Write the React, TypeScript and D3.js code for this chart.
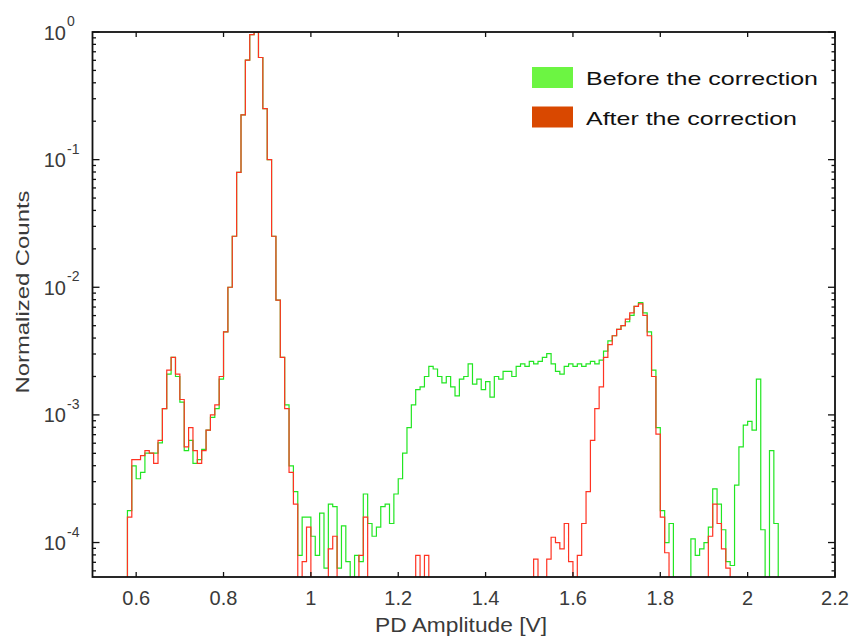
import React, { useEffect, useRef } from 'react';
import * as d3 from 'd3';

// histogram bins: 0.01 V wide, first bin starts at 0.57 V
const BIN_START = 0.57;
const BIN_WIDTH = 0.01;

// normalized counts per bin (0 = empty bin, falls below the axis)
const beforeCounts = [
  0, 1.78e-4, 3.98e-4, 3.16e-4, 3.55e-4, 5.01e-4, 5.01e-4, 5.01e-4, 6.03e-4, 1.12e-3,
  2.09e-3, 2.82e-3, 2.0e-3, 1.26e-3, 5.25e-4, 6.31e-4, 4.17e-4, 4.47e-4, 5.37e-4, 7.59e-4,
  9.55e-4, 1.12e-3, 1.91e-3, 4.47e-3, 1.0e-2, 2.51e-2, 7.94e-2, 0.224, 0.603, 0.955,
  1.0, 0.631, 0.251, 0.1, 2.51e-2, 7.94e-3, 2.82e-3, 1.2e-3, 3.98e-4, 2.51e-4,
  7.94e-5, 1.58e-4, 1.58e-4, 1.12e-4, 7.94e-5, 1.7e-4, 6.31e-5, 2.0e-4, 1.91e-4, 6.31e-5,
  1.35e-4, 7.08e-5, 0, 7.94e-5, 7.08e-5, 2.4e-4, 1.41e-4, 1.12e-4, 1.32e-4, 1.91e-4,
  2.0e-4, 1.41e-4, 2.4e-4, 3.16e-4, 5.01e-4, 7.94e-4, 1.2e-3, 1.58e-3, 1.66e-3, 2.0e-3,
  2.4e-3, 2.29e-3, 2.0e-3, 1.78e-3, 2.0e-3, 1.66e-3, 1.41e-3, 1.91e-3, 2.0e-3, 2.51e-3,
  1.74e-3, 1.91e-3, 1.58e-3, 1.82e-3, 1.38e-3, 2.0e-3, 1.91e-3, 2.19e-3, 2.19e-3, 2.0e-3,
  2.4e-3, 2.51e-3, 2.4e-3, 2.63e-3, 2.51e-3, 2.63e-3, 2.82e-3, 3.02e-3, 2.51e-3, 2.19e-3,
  2.09e-3, 2.4e-3, 2.51e-3, 2.4e-3, 2.51e-3, 2.4e-3, 2.51e-3, 2.63e-3, 2.51e-3, 2.69e-3,
  3.16e-3, 3.8e-3, 4.17e-3, 4.68e-3, 5.01e-3, 5.37e-3, 6.03e-3, 7.08e-3, 7.59e-3, 6.31e-3,
  4.47e-3, 2.24e-3, 7.94e-4, 1.78e-4, 1.0e-4, 1.41e-4, 0, 0, 0, 0,
  1.07e-4, 7.94e-5, 8.91e-5, 1.0e-4, 1.32e-4, 2.63e-4, 2.0e-4, 1.26e-4, 7.08e-5, 6.61e-5,
  2.82e-4, 5.62e-4, 8.32e-4, 8.91e-4, 7.59e-4, 1.91e-3, 1.26e-4, 0, 5.25e-4, 1.41e-4,
  0,
];

const afterCounts = [
  0, 1.58e-4, 4.47e-4, 4.47e-4, 4.79e-4, 5.25e-4, 5.01e-4, 4.17e-4, 6.31e-4, 1.12e-3,
  2.24e-3, 2.82e-3, 2.09e-3, 1.32e-3, 5.62e-4, 7.94e-4, 5.25e-4, 4.17e-4, 5.25e-4, 7.59e-4,
  1.0e-3, 1.2e-3, 2.0e-3, 4.47e-3, 1.0e-2, 2.51e-2, 7.94e-2, 0.224, 0.603, 0.955,
  1.0, 0.631, 0.251, 0.1, 2.51e-2, 7.94e-3, 2.82e-3, 1.12e-3, 3.55e-4, 2.0e-4,
  0, 7.08e-5, 1.32e-4, 0, 0, 0, 0, 8.91e-5, 1.12e-4, 0,
  0, 0, 0, 0, 7.94e-5, 1.58e-4, 0, 0, 0, 0,
  0, 0, 0, 0, 0, 0, 0, 7.94e-5, 0, 7.94e-5,
  0, 0, 0, 0, 0, 0, 0, 0, 0, 0,
  0, 0, 0, 0, 0, 0, 0, 0, 0, 0,
  0, 0, 0, 0, 7.41e-5, 0, 0, 7.41e-5, 1.1e-4, 1.0e-4,
  8.91e-5, 1.41e-4, 7.08e-5, 0, 7.94e-5, 1.41e-4, 2.51e-4, 6.31e-4, 1.12e-3, 1.66e-3,
  2.82e-3, 3.55e-3, 4.17e-3, 4.68e-3, 5.01e-3, 5.62e-3, 6.31e-3, 7.08e-3, 7.41e-3, 6.03e-3,
  4.17e-3, 2.0e-3, 7.08e-4, 1.58e-4, 8.32e-5, 0, 0, 0, 0, 0,
  0, 0, 0, 0, 1.12e-4, 2.0e-4, 1.41e-4, 8.91e-5, 6.31e-5, 0,
  0, 0, 0, 0, 0, 0, 0, 0, 0, 0,
  0,
];

const xTicks = [0.6, 0.8, 1, 1.2, 1.4, 1.6, 1.8, 2, 2.2];
const yExponents = [0, -1, -2, -3, -4];

const series = [
  { label: 'Before the correction', counts: beforeCounts, line: '#22e622', swatch: '#6cf542', textLen: 232 },
  { label: 'After the correction', counts: afterCounts, line: '#ff3322', swatch: '#d94800', textLen: 211 },
];

const W = 849;
const H = 636;
const FONT = 'Liberation Sans, Arial, sans-serif';

export default function App() {
  const svgRef = useRef<SVGSVGElement>(null);

  useEffect(() => {
    if (!svgRef.current) return;
    const svg = d3.select(svgRef.current);
    svg.selectAll('*').remove();

    const left = 92.5, right = 835, top = 32, bottom = 577;
    const x = d3.scaleLinear().domain([0.5, 2.2]).range([left, right]);
    const y = d3.scaleLog().domain([Math.pow(10, -4.27), 1]).range([bottom, top]);

    svg.append('rect').attr('width', W).attr('height', H).attr('fill', '#fff');

    svg.append('clipPath').attr('id', 'plot-clip')
      .append('rect').attr('x', left).attr('y', top).attr('width', right - left).attr('height', bottom - top);

    // histogram step lines, green first, red drawn over it
    const g = svg.append('g').attr('clip-path', 'url(#plot-clip)');
    series.forEach(s => {
      const pts: [number, number][] = s.counts.map((c, i) => [BIN_START + i * BIN_WIDTH, c]);
      pts.push([BIN_START + s.counts.length * BIN_WIDTH, s.counts[s.counts.length - 1]]);
      const line = d3.line<[number, number]>()
        .x(d => x(d[0]))
        .y(d => (d[1] > 0 ? y(d[1]) : bottom + 20))
        .curve(d3.curveStepAfter);
      g.append('path')
        .datum(pts)
        .attr('fill', 'none')
        .attr('stroke', s.line)
        .attr('stroke-width', 1.2)
        .attr('d', line);
    });

    // frame
    svg.append('rect')
      .attr('x', left).attr('y', top).attr('width', right - left).attr('height', bottom - top)
      .attr('fill', 'none').attr('stroke', '#111').attr('stroke-width', 1.8);

    const ticks = svg.append('g').attr('stroke', '#111').attr('stroke-width', 1.3);

    // x ticks, bottom and top, pointing inward
    xTicks.forEach(t => {
      ticks.append('line').attr('x1', x(t)).attr('x2', x(t)).attr('y1', bottom).attr('y2', bottom - 5);
      ticks.append('line').attr('x1', x(t)).attr('x2', x(t)).attr('y1', top).attr('y2', top + 5);
    });

    // y ticks: decades and minor ticks, left and right
    yExponents.forEach(e => {
      const py = y(Math.pow(10, e));
      ticks.append('line').attr('x1', left).attr('x2', left + 7).attr('y1', py).attr('y2', py);
      ticks.append('line').attr('x1', right).attr('x2', right - 7).attr('y1', py).attr('y2', py);
    });
    [-5, -4, -3, -2, -1].forEach(e => {
      d3.range(2, 10).forEach(m => {
        const v = m * Math.pow(10, e);
        const [lo, hi] = y.domain();
        if (v < lo || v > hi) return;
        const py = y(v);
        ticks.append('line').attr('x1', left).attr('x2', left + 3.5).attr('y1', py).attr('y2', py);
        ticks.append('line').attr('x1', right).attr('x2', right - 3.5).attr('y1', py).attr('y2', py);
      });
    });

    // tick labels
    const labels = svg.append('g').attr('font-family', FONT).attr('fill', '#3a3a3a');
    xTicks.forEach(t => {
      labels.append('text')
        .attr('x', x(t)).attr('y', 605)
        .attr('text-anchor', 'middle').attr('font-size', 20)
        .text(String(t));
    });
    yExponents.forEach(e => {
      const py = y(Math.pow(10, e));
      labels.append('text')
        .attr('x', 66).attr('y', py + 7.5)
        .attr('text-anchor', 'end').attr('font-size', 20)
        .text('10');
      labels.append('text')
        .attr('x', 67).attr('y', py - 6)
        .attr('font-size', 14)
        .text(String(e));
    });

    // axis titles
    labels.append('text')
      .attr('x', 461).attr('y', 632)
      .attr('text-anchor', 'middle').attr('font-size', 21)
      .attr('textLength', 172).attr('lengthAdjust', 'spacingAndGlyphs')
      .text('PD Amplitude [V]');
    labels.append('text')
      .attr('transform', 'translate(29,292) rotate(-90)')
      .attr('text-anchor', 'middle').attr('font-size', 19)
      .attr('textLength', 203).attr('lengthAdjust', 'spacingAndGlyphs')
      .text('Normalized Counts');

    // legend
    const legend = svg.append('g').attr('font-family', FONT);
    series.forEach((s, i) => {
      const ly = 67 + i * 39.5;
      legend.append('rect')
        .attr('x', 532).attr('y', ly).attr('width', 41).attr('height', 21)
        .attr('fill', s.swatch);
      legend.append('text')
        .attr('x', 586).attr('y', ly + 18)
        .attr('font-size', 19).attr('fill', '#111')
        .attr('textLength', s.textLen).attr('lengthAdjust', 'spacingAndGlyphs')
        .text(s.label);
    });
  }, []);

  return (
    <svg
      ref={svgRef}
      width={W}
      height={H}
      style={{ position: 'absolute', left: 0, top: 0, display: 'block' }}
    />
  );
}
